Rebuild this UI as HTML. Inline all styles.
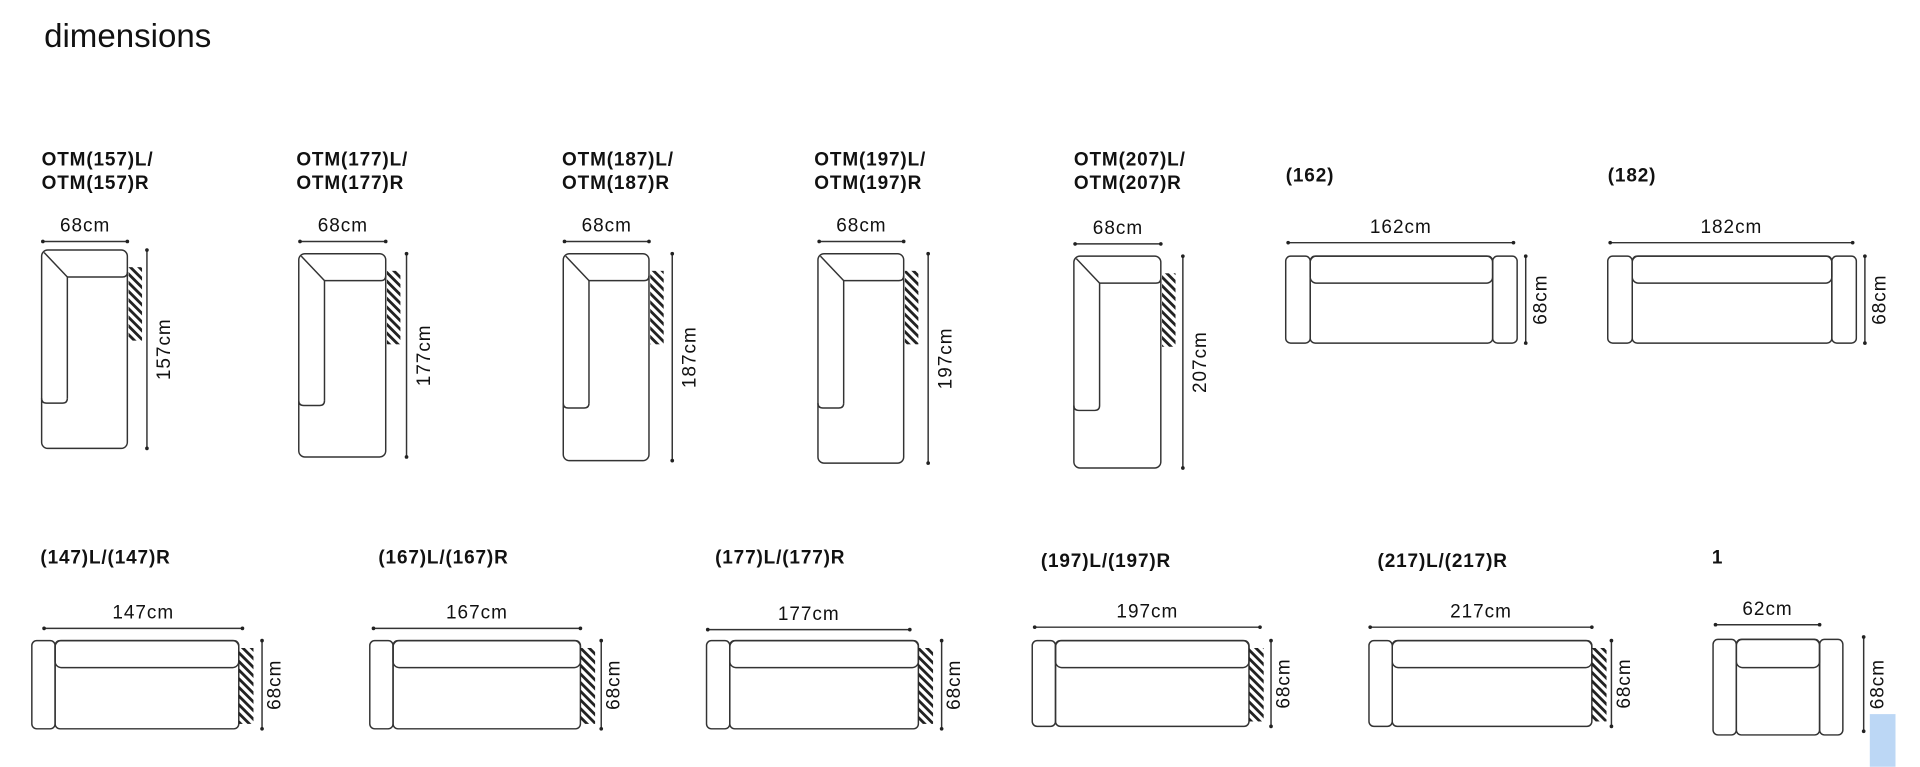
<!DOCTYPE html>
<html><head><meta charset="utf-8"><style>
html,body{margin:0;padding:0;background:#fff;}
svg{display:block;}
text{font-family:"Liberation Sans",sans-serif;fill:#111;}
.lb{font-weight:bold;font-size:15.5px;letter-spacing:0.7px;}
.dm{font-size:15.5px;letter-spacing:0.8px;}
</style></head><body>
<svg id="s" width="1920" height="767" viewBox="0 0 1568 626" xmlns="http://www.w3.org/2000/svg">
<defs>
<pattern id="h" patternUnits="userSpaceOnUse" width="5" height="5" patternTransform="rotate(-45)">
<rect x="0" y="0" width="2.3" height="5" fill="#222"/>
</pattern>
</defs>
<text x="36" y="38" style="font-size:27px">dimensions</text>
<g id="g" fill="none" stroke="#333" stroke-width="1.2"></g>
</svg>
<script>
const g=document.getElementById('g'),s=document.getElementById('s');
const NS='http://www.w3.org/2000/svg';
function el(p,t,a,txt){const e=document.createElementNS(NS,t);for(const k in a)e.setAttribute(k,a[k]);if(txt)e.textContent=txt;p.appendChild(e);return e;}
function R(x,y,w,h,r){el(g,'rect',{x,y,width:w,height:h,rx:r||4});}
function L(x1,y1,x2,y2){el(g,'line',{x1,y1,x2,y2});}
function dot(x,y){el(s,'circle',{cx:x,cy:y,r:1.5,fill:'#222'});}
function hdim(x1,x2,y,t){L(x1,y,x2,y);dot(x1,y);dot(x2,y);el(s,'text',{x:(x1+x2)/2,y:y-8,'text-anchor':'middle',class:'dm'},t);}
function vdim(x,y1,y2,tx,t){L(x,y1,x,y2);dot(x,y1);dot(x,y2);const cy=(y1+y2)/2;el(s,'text',{x:tx,y:cy,'text-anchor':'middle',class:'dm',transform:`rotate(-90 ${tx} ${cy})`},t);}
function hatch(x,y,w,h){el(s,'rect',{x,y,width:w,height:h,fill:'url(#h)'});}
function label(x,y,lines){lines.forEach((l,i)=>el(s,'text',{x,y:y+i*19,class:'lb'},l));}
[[34,104,204,366,120,329,'157',197,34,130],
 [244,315,207,373,332,331,'177',197,242,130],
 [460,530,207,376,549,333,'187',197,459,130],
 [668,738,207,378,758,333,'197',197,665,130],
 [877,948,209,382,966,335,'207',199,877,130]].forEach(o=>{
 const [l,r,t,b,dx,ab,n,ly,lx,lby]=o;
 label(lx,lby+5,['OTM('+n+')L/','OTM('+n+')R']);
 hdim(l+1,r,ly,'68cm');
 R(l,t,r-l,b-t,5);
 el(g,'path',{d:`M${l+21} ${ab-4} L${l+21} ${t+22} L${r-4} ${t+22} Q${r} ${t+22} ${r} ${t+18}`});
 L(l+2,t+2,l+21,t+22);
 el(g,'path',{d:`M${l} ${ab-4} Q${l} ${ab} ${l+4} ${ab} L${l+17} ${ab} Q${l+21} ${ab} ${l+21} ${ab-4}`});
 hatch(r+1,t+14,11,60);
 vdim(dx,t,b,dx+19,n+'cm');
});
[[1050,1239,1246,'162',1052,1236],[1313,1516,1523,'182',1315,1513]].forEach(o=>{
 const [l,r,dx,n,a,b]=o;
 label(l,148,['('+n+')']);
 hdim(a,b,198,n+'cm');
 R(l,209,20,71,4);R(r-20,209,20,71,4);
 R(l+20,209,r-l-40,71,4);
 R(l+20,209,r-l-40,22,5);
 vdim(dx,209,280,dx+17,'68cm');
});
[[26,195,214,'147',36,198,455,513,523,595],
 [302,474,491,'167',305,474,455,513,523,595],
 [577,750,769,'177',578,743,455,514,523,595],
 [843,1020,1038,'197',845,1029,458,512,523,593],
 [1118,1300,1316,'217',1119,1300,458,512,523,593]].forEach(o=>{
 const [l,r,dx,n,a,b,lby,ly,t,bt]=o;
 label(l+7,lby+5,['('+n+')L/('+n+')R']);
 hdim(a,b,ly,n+'cm');
 R(l,t,19,bt-t,4);
 R(l+19,t,r-l-19,bt-t,4);
 R(l+19,t,r-l-19,22,5);
 hatch(r,t+6,12,bt-t-10);
 vdim(dx,t,bt,dx+15,'68cm');
});
label(1398,460,['1']);
hdim(1401,1486,510,'62cm');
R(1399,522,19,78,4);R(1486,522,19,78,4);
R(1418,522,68,78,4);R(1418,522,68,23,5);
vdim(1522,520,597,1538,'68cm');
el(s,'rect',{x:1527,y:583,width:21,height:43,fill:'#bcd7f5'});
</script>
</body></html>
